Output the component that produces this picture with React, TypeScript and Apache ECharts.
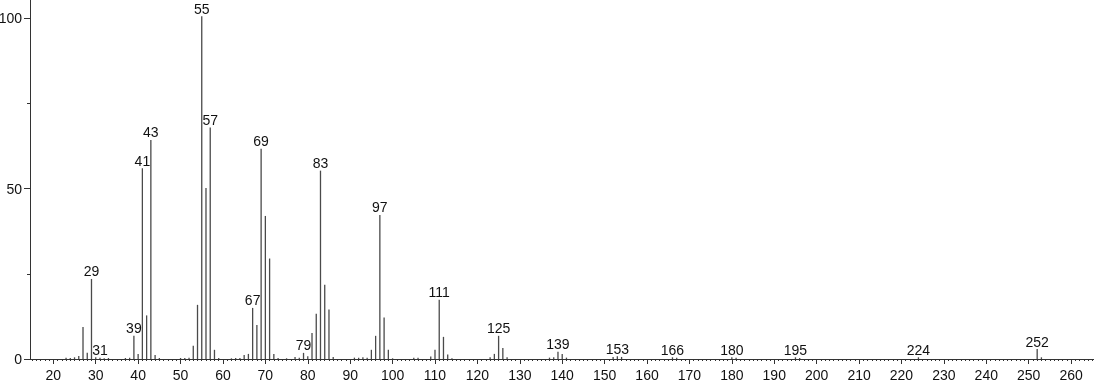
import React, { useEffect, useRef } from "react";
import * as echarts from "echarts";

// m/z values and relative intensities
const mzValues = [
  23, 24, 25, 26, 27, 28, 29, 30, 31, 32, 33, 37, 38,
  39, 40, 41, 42, 43, 44, 45, 50, 51, 52, 53, 54, 55, 56, 57, 58, 59,
  62, 63, 64, 65, 66, 67, 68, 69, 70, 71, 72, 73, 75, 77, 78, 79, 80,
  81, 82, 83, 84, 85, 86, 91, 92, 93, 94, 95, 96, 97, 98, 99, 100,
  105, 106, 109, 110, 111, 112, 113, 114, 123, 124, 125, 126, 127,
  137, 138, 139, 140, 141, 152, 153, 154, 166, 167, 180, 181, 195, 196,
  224, 252, 253,
];
const intensities = [
  0.4, 0.3, 0.5, 0.9, 9.4, 1.8, 23.5, 0.5, 0.4, 0.2, 0.3, 0.3, 0.4,
  6.8, 1.5, 56.0, 12.8, 64.3, 1.2, 0.3, 0.3, 0.3, 0.4, 3.9, 15.9, 100.6, 50.2, 68.0, 2.7, 0.3,
  0.2, 0.3, 0.3, 1.2, 1.5, 15.0, 10.0, 61.7, 42.0, 29.5, 1.5, 0.3, 0.2, 0.6, 0.4, 1.8, 0.8,
  7.6, 13.3, 55.3, 21.8, 14.5, 0.6, 0.4, 0.4, 0.5, 0.4, 2.7, 6.8, 42.3, 12.2, 2.7, 0.2,
  0.4, 0.4, 0.7, 2.7, 17.4, 6.5, 1.3, 0.2, 0.5, 1.5, 6.8, 3.2, 0.5,
  0.4, 0.5, 2.1, 1.5, 0.4, 0.6, 0.8, 0.6, 0.5, 0.4, 0.5, 0.4, 0.5, 0.3,
  0.5, 2.9, 0.5,
];
const labeledMz = [29, 31, 39, 41, 43, 55, 57, 67, 69, 79, 83, 97, 111, 125, 139, 153, 166, 180, 195, 224, 252];

const xTickValues = [20, 30, 40, 50, 60, 70, 80, 90, 100, 110, 120, 130, 140, 150, 160, 170, 180, 190, 200, 210, 220, 230, 240, 250, 260];
const xMinorTickValues: number[] = [];
for (let v = 15; v <= 265; v++) if (v % 10 !== 0) xMinorTickValues.push(v);
const yTickValues = [0, 50, 100];
const yMinorTickValues = [25, 75];

const FONT = "'Liberation Sans', Arial, Helvetica, sans-serif";
const FONT_SIZE = 14;
const AXIS_COLOR = "#333";
const TEXT_COLOR = "#111";
const PEAK_COLOR = "#4a4a4a";
const X_MIN = 14.5;
const X_MAX = 265.4;
const Y_MAX = 105.4;

export default function App() {
  const ref = useRef<HTMLDivElement>(null);
  useEffect(() => {
    if (!ref.current) return;
    const chart = echarts.init(ref.current, null, { renderer: "svg" });
    const data = mzValues.map((mz, i) => [mz, intensities[i], labeledMz.includes(mz) ? 1 : 0]);
    chart.setOption({
      animation: false,
      grid: { left: 30, right: 0, top: 0, bottom: 25, containLabel: false, outerBoundsMode: "none" },
      xAxis: [
        {
          type: "value",
          min: X_MIN,
          max: X_MAX,
          position: "bottom",
          axisLine: { show: true, onZero: false, lineStyle: { color: AXIS_COLOR, width: 1 } },
          axisTick: { show: true, length: 5, customValues: xTickValues, lineStyle: { color: AXIS_COLOR } },
          axisLabel: { customValues: xTickValues, margin: 9, fontSize: FONT_SIZE, color: TEXT_COLOR, fontFamily: FONT },
          splitLine: { show: false },
        },
        {
          type: "value",
          min: X_MIN,
          max: X_MAX,
          position: "bottom",
          axisLine: { show: false, onZero: false },
          axisTick: { show: true, length: 2, customValues: xMinorTickValues, lineStyle: { color: AXIS_COLOR } },
          axisLabel: { show: false },
          splitLine: { show: false },
        },
      ],
      yAxis: [
        {
          type: "value",
          min: 0,
          max: Y_MAX,
          position: "left",
          axisLine: { show: true, onZero: false, lineStyle: { color: AXIS_COLOR, width: 1 } },
          axisTick: { show: true, length: 6, customValues: yTickValues, lineStyle: { color: AXIS_COLOR } },
          axisLabel: { customValues: yTickValues, margin: 8, fontSize: FONT_SIZE, color: TEXT_COLOR, fontFamily: FONT },
          splitLine: { show: false },
        },
        {
          type: "value",
          min: 0,
          max: Y_MAX,
          position: "left",
          axisLine: { show: false, onZero: false },
          axisTick: { show: true, length: 3, customValues: yMinorTickValues, lineStyle: { color: AXIS_COLOR } },
          axisLabel: { show: false },
          splitLine: { show: false },
        },
      ],
      series: [
        {
          type: "custom",
          xAxisIndex: 0,
          yAxisIndex: 0,
          encode: { x: 0, y: 1 },
          data,
          renderItem: (params: any, api: any) => {
            const x = api.value(0);
            const y = api.value(1);
            const labeled = api.value(2) === 1;
            const p0 = api.coord([x, 0]);
            const p1 = api.coord([x, y]);
            const children: any[] = [
              {
                type: "line",
                shape: { x1: p0[0], y1: p0[1], x2: p1[0], y2: p1[1] },
                style: { stroke: PEAK_COLOR, lineWidth: 1.3 },
              },
            ];
            if (labeled) {
              children.push({
                type: "text",
                x: p1[0],
                y: p1[1] - 0.5,
                style: {
                  text: String(x),
                  textAlign: "center",
                  textVerticalAlign: "bottom",
                  fontSize: FONT_SIZE,
                  fontFamily: FONT,
                  fill: TEXT_COLOR,
                },
              });
            }
            return { type: "group", children };
          },
        },
      ],
    });
    return () => chart.dispose();
  }, []);
  return <div ref={ref} style={{ position: "fixed", left: 0, top: 0, width: 1094, height: 384 }} />;
}
